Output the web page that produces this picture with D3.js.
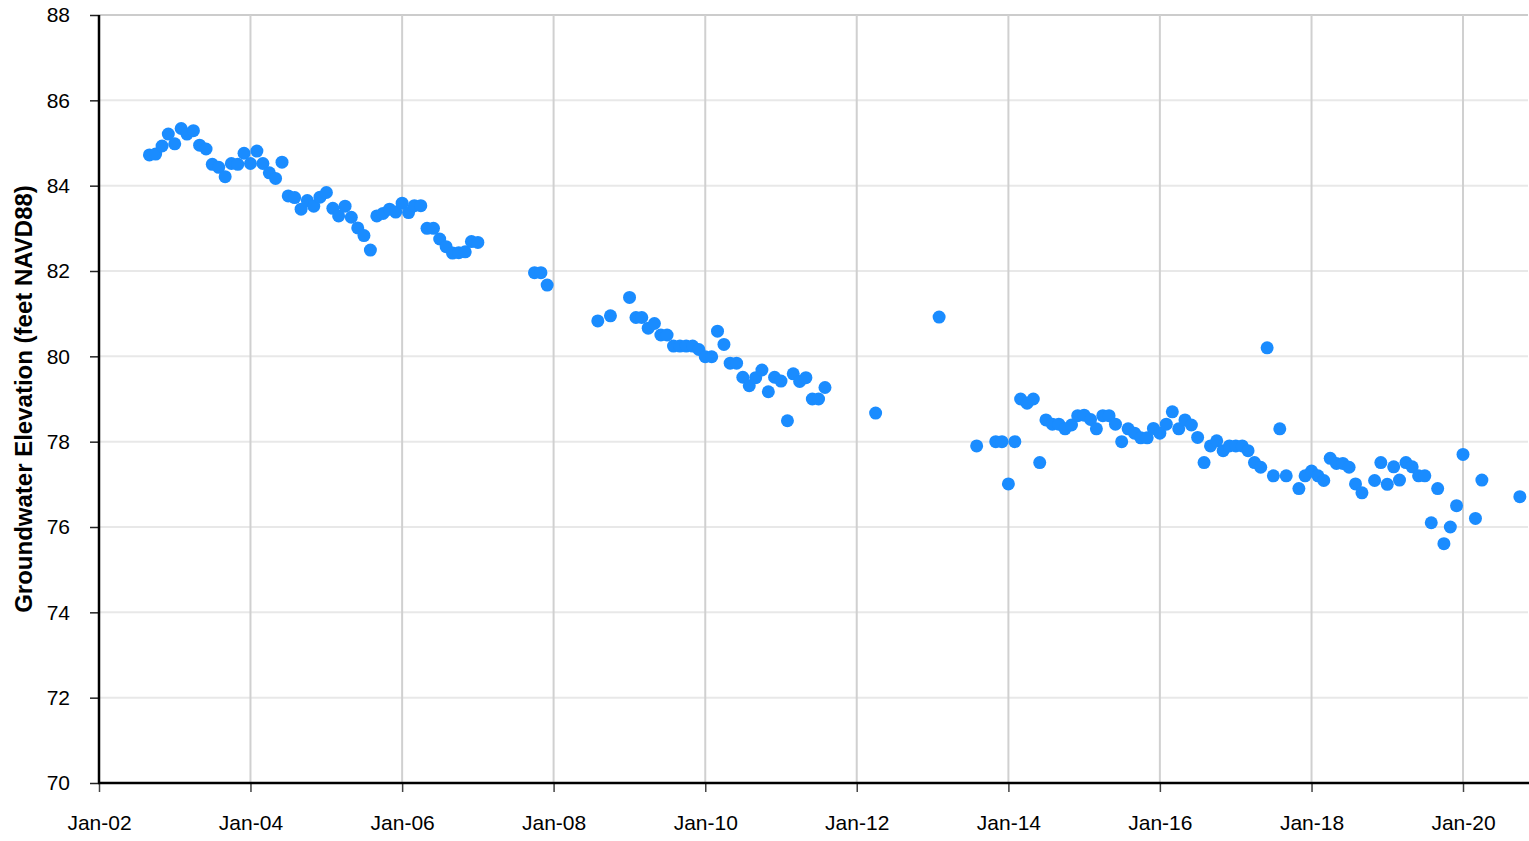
<!DOCTYPE html>
<html>
<head>
<meta charset="utf-8">
<script src="https://cdn.jsdelivr.net/npm/d3@7"></script>
<style>
  html, body { margin: 0; padding: 0; background: #fff; }
  svg { display: block; font-family: "Liberation Sans", Arial, sans-serif; }
</style>
</head>
<body>
<svg id="chart" width="1529" height="841"></svg>
<script>
// Monthly groundwater elevation readings (feet NAVD88), by month of measurement
const dates2002to2007 = ["2002-09","2002-10","2002-11","2002-12","2003-01","2003-02","2003-03","2003-04","2003-05","2003-06","2003-07","2003-08","2003-09","2003-10","2003-11","2003-12","2004-01","2004-02","2004-03","2004-04","2004-05","2004-06","2004-07","2004-08","2004-09","2004-10","2004-11","2004-12","2005-01","2005-02","2005-03","2005-04","2005-05","2005-06","2005-07","2005-08","2005-09","2005-10","2005-11","2005-12","2006-01","2006-02","2006-03","2006-04","2006-05","2006-06","2006-07","2006-08","2006-09","2006-10","2006-11","2006-12","2007-01"];
const values2002to2007 = [84.72,84.74,84.93,85.21,84.98,85.34,85.21,85.29,84.95,84.86,84.50,84.43,84.21,84.52,84.50,84.76,84.52,84.81,84.52,84.30,84.17,84.55,83.76,83.72,83.45,83.65,83.52,83.73,83.84,83.47,83.29,83.52,83.26,83.01,82.83,82.49,83.29,83.35,83.45,83.38,83.59,83.37,83.53,83.53,83.00,83.00,82.75,82.57,82.42,82.43,82.45,82.69,82.67];

const dates2007to2013 = ["2007-10","2007-11","2007-12","2008-08","2008-10","2009-01","2009-02","2009-03","2009-04","2009-05","2009-06","2009-07","2009-08","2009-09","2009-10","2009-11","2009-12","2010-01","2010-02","2010-03","2010-04","2010-05","2010-06","2010-07","2010-08","2010-09","2010-10","2010-11","2010-12","2011-01","2011-02","2011-03","2011-04","2011-05","2011-06","2011-07","2011-08","2012-04","2013-02"];
const values2007to2013 = [81.96,81.96,81.67,80.83,80.95,81.38,80.91,80.91,80.66,80.77,80.50,80.50,80.24,80.24,80.24,80.24,80.16,79.99,79.99,80.59,80.28,79.84,79.84,79.51,79.31,79.50,79.68,79.17,79.51,79.42,78.49,79.59,79.41,79.50,79.00,79.00,79.27,78.67,80.92];

const dates2013to2020 = ["2013-08","2013-11","2013-12","2014-01","2014-02","2014-03","2014-04","2014-05","2014-06","2014-07","2014-08","2014-09","2014-10","2014-11","2014-12","2015-01","2015-02","2015-03","2015-04","2015-05","2015-06","2015-07","2015-08","2015-09","2015-10","2015-11","2015-12","2016-01","2016-02","2016-03","2016-04","2016-05","2016-06","2016-07","2016-08","2016-09","2016-10","2016-11","2016-12","2017-01","2017-02","2017-03","2017-04","2017-05","2017-06","2017-07","2017-08","2017-09","2017-11","2017-12","2018-01","2018-02","2018-03","2018-04","2018-05","2018-06","2018-07","2018-08","2018-09","2018-11","2018-12","2019-01","2019-02","2019-03","2019-04","2019-05","2019-06","2019-07","2019-08","2019-09","2019-10","2019-11","2019-12","2020-01","2020-03","2020-04","2020-10"];
const values2013to2020 = [77.90,78.00,78.00,77.01,78.00,79.00,78.90,79.00,77.51,78.51,78.41,78.41,78.30,78.39,78.61,78.62,78.52,78.30,78.61,78.61,78.41,78.00,78.30,78.20,78.09,78.09,78.31,78.20,78.41,78.70,78.30,78.51,78.39,78.10,77.51,77.90,78.02,77.79,77.90,77.90,77.90,77.79,77.51,77.40,80.20,77.20,78.30,77.20,76.90,77.20,77.31,77.20,77.09,77.61,77.49,77.49,77.40,77.01,76.80,77.09,77.51,77.00,77.41,77.10,77.51,77.41,77.20,77.20,76.10,76.90,75.61,76.00,76.50,77.70,76.20,77.10,76.71];

const yTickValues = [70, 72, 74, 76, 78, 80, 82, 84, 86, 88];
const xTickYears = [2002, 2004, 2006, 2008, 2010, 2012, 2014, 2016, 2018, 2020];
const yAxisTitle = "Groundwater Elevation (feet NAVD88)";

(function drawChart() {
  const parseMonth = d3.timeParse("%Y-%m");
  const points = []
    .concat(dates2002to2007.map((d, i) => ({ date: parseMonth(d), value: values2002to2007[i] })))
    .concat(dates2007to2013.map((d, i) => ({ date: parseMonth(d), value: values2007to2013[i] })))
    .concat(dates2013to2020.map((d, i) => ({ date: parseMonth(d), value: values2013to2020[i] })));

  const svg = d3.select("#chart");
  const plotLeft = 99, plotRight = 1528, plotTop = 15, plotBottom = 783;

  // Even-year ticks run Jan 2002 .. Jan 2020; the plot continues a little past 2020
  const xBase = d3.scaleTime()
    .domain([new Date(2002, 0, 1), new Date(2020, 0, 1)])
    .range([plotLeft, 1463]);
  const x = d3.scaleTime()
    .domain([new Date(2002, 0, 1), xBase.invert(plotRight)])
    .range([plotLeft, plotRight]);
  const y = d3.scaleLinear().domain([70, 88]).range([plotBottom, plotTop]);

  const xTicks = xTickYears.map(yr => new Date(yr, 0, 1));
  const fmt = d3.timeFormat("%b-%y");
  const font = "'Liberation Sans', Arial, sans-serif";

  // Horizontal grid
  svg.append("g")
    .selectAll("line")
    .data(yTickValues.filter(v => v > 70))
    .join("line")
    .attr("x1", plotLeft).attr("x2", plotRight)
    .attr("y1", d => y(d)).attr("y2", d => y(d))
    .attr("stroke", d => d === 88 ? "#cccccc" : "#e8e8e8")
    .attr("stroke-width", 2);

  // Vertical grid
  svg.append("g")
    .selectAll("line")
    .data(xTicks.slice(1))
    .join("line")
    .attr("x1", d => x(d)).attr("x2", d => x(d))
    .attr("y1", plotTop).attr("y2", plotBottom)
    .attr("stroke", "#d0d0d0")
    .attr("stroke-width", 2);

  // Axes
  const yAxis = svg.append("g")
    .attr("transform", `translate(${plotLeft},0)`)
    .call(d3.axisLeft(y).tickValues(yTickValues).tickSize(9).tickPadding(20).tickFormat(d3.format("d")));
  yAxis.select(".domain").remove();
  yAxis.selectAll(".tick line").attr("stroke", "#222").attr("stroke-width", 1.5);
  yAxis.selectAll(".tick text").attr("font-size", 21).attr("fill", "#000").attr("font-family", font);

  const xAxis = svg.append("g")
    .attr("transform", `translate(0,${plotBottom})`)
    .call(d3.axisBottom(x).tickValues(xTicks).tickSize(9).tickPadding(23).tickFormat(fmt));
  xAxis.select(".domain").remove();
  xAxis.selectAll(".tick line").attr("stroke", "#444").attr("stroke-width", 1.5);
  xAxis.selectAll(".tick text").attr("font-size", 21).attr("fill", "#000").attr("font-family", font);

  // Axis lines
  svg.append("line").attr("x1", plotLeft).attr("x2", plotLeft).attr("y1", plotTop).attr("y2", plotBottom)
    .attr("stroke", "#000").attr("stroke-width", 2.5);
  svg.append("line").attr("x1", plotLeft - 1).attr("x2", plotRight + 1).attr("y1", plotBottom).attr("y2", plotBottom)
    .attr("stroke", "#000").attr("stroke-width", 2.5);

  // Y axis title
  svg.append("text")
    .attr("transform", `translate(32,399) rotate(-90)`)
    .attr("text-anchor", "middle")
    .attr("font-size", 24)
    .attr("font-weight", "bold")
    .attr("font-family", font)
    .text(yAxisTitle);

  // Measurement points
  svg.append("g")
    .selectAll("circle")
    .data(points)
    .join("circle")
    .attr("cx", d => x(d.date))
    .attr("cy", d => y(d.value))
    .attr("r", 6.5)
    .attr("fill", "#1a8cff");
})();
</script>
</body>
</html>
